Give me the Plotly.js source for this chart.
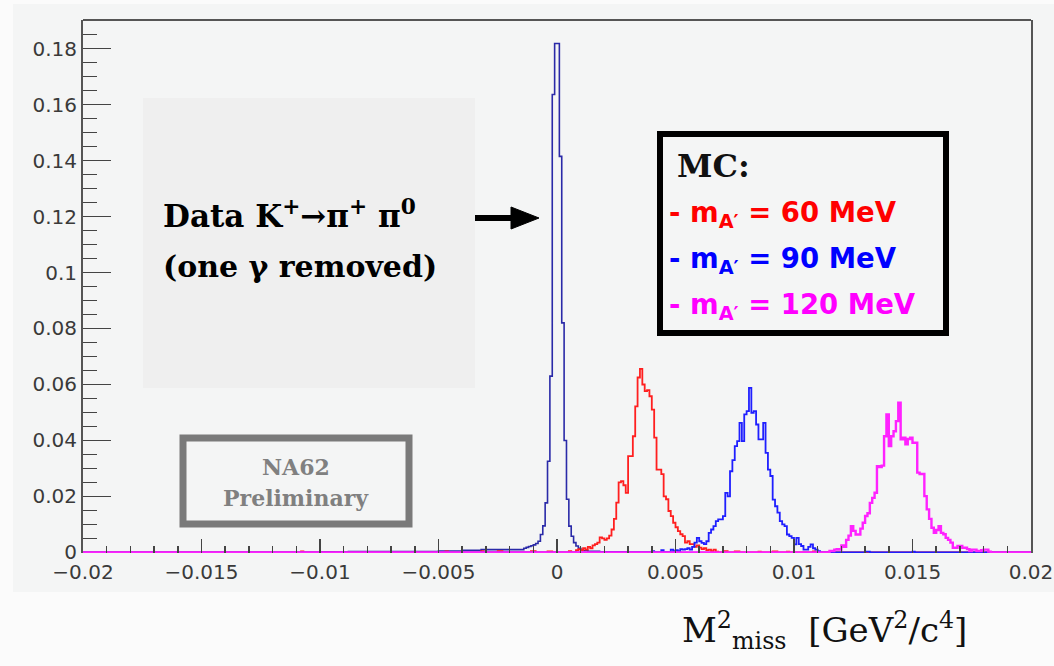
<!DOCTYPE html>
<html><head><meta charset="utf-8">
<script src="https://cdn.plot.ly/plotly-3.0.1.min.js"></script>
<style>html,body{margin:0;padding:0;background:#fbfbfb;} #chart{width:1054px;height:666px;}</style>
</head><body><div id="chart"></div>
<script>
// ---------------- data ----------------
const BIN = 0.0001;
const xTickVals = [-0.02, -0.015, -0.01, -0.005, 0, 0.005, 0.01, 0.015, 0.02];
const xTickText = ['\u22120.02', '\u22120.015', '\u22120.01', '\u22120.005', '0', '0.005', '0.01', '0.015', '0.02'];
const yTickVals = [0, 0.02, 0.04, 0.06, 0.08, 0.1, 0.12, 0.14, 0.16, 0.18];
const yTickText = ['0', '0.02', '0.04', '0.06', '0.08', '0.1', '0.12', '0.14', '0.16', '0.18'];

// Data K+ -> pi+ pi0 (bin low edges, value holds until next edge)
const dataEdges = [-0.0100, -0.0094, -0.0088, -0.0050, -0.0040, -0.0032, -0.0014, -0.0013, -0.0012, -0.0011,
  -0.0010, -0.0009, -0.0008, -0.0007, -0.0006, -0.0005, -0.0004, -0.0003, -0.0002, -0.0001,
  0.0000, 0.0001, 0.0002, 0.0003, 0.0004, 0.0005, 0.0006, 0.0007, 0.0008, 0.0009,
  0.0010, 0.0011, 0.0013, 0.0018, 0.0030, 0.0050];
const dataVals = [0.0002, 0.0001, 0.0003, 0.0005, 0.0008, 0.0010, 0.0015, 0.0018, 0.0021, 0.0024,
  0.0027, 0.0032, 0.0040, 0.0064, 0.0095, 0.0177, 0.0326, 0.0630, 0.1636, 0.1818,
  0.1818, 0.1415, 0.0820, 0.0400, 0.0190, 0.0094, 0.0058, 0.0035, 0.0023, 0.0015,
  0.0010, 0.0007, 0.0004, 0.0002, 0.0001, 0];

// MC m_A' = 60 MeV (red): peak bins from mc60Start, width BIN
const mc60Start = 0.0008;
const mc60Vals = [0.0008, 0.0012, 0.0008, 0.0015, 0.0010, 0.0020, 0.0015, 0.0025, 0.0030, 0.0035,
  0.0054, 0.0050, 0.0045, 0.0050, 0.0060, 0.0082, 0.0120, 0.0178, 0.0250, 0.0255,
  0.0240, 0.0213, 0.0344, 0.0344, 0.0415, 0.0522, 0.0625, 0.0656, 0.0600, 0.0576,
  0.0580, 0.0558, 0.0510, 0.0410, 0.0296, 0.0296, 0.0280, 0.0200, 0.0190, 0.0148,
  0.0130, 0.0106, 0.0090, 0.0076, 0.0065, 0.0058, 0.0035, 0.0040, 0.0030, 0.0030,
  0.0020, 0.0025, 0.0017, 0.0012, 0.0015, 0.0008, 0.0010, 0.0005, 0.0010, 0.0003, 0];
const mc60ExtraEdges = [-0.0108, -0.0107, -0.0047, -0.0046, -0.0032, -0.0031, -0.0025, -0.0023, -0.0011, -0.0009,
  -0.0004, -0.0002, 0.0005, 0.0006, 0.0070, 0.0072, 0.0075, 0.0077, 0.0085, 0.0086,
  0.0091, 0.0093, 0.0097, 0.0098, 0.0108, 0.0109, 0.0115, 0.0116];
const mc60ExtraVals = [0.0004, 0, 0.0004, 0, 0.0005, 0, 0.0005, 0, 0.0005, 0,
  0.0004, 0, 0.0005, 0, 0.0005, 0, 0.0004, 0, 0.0003, 0,
  0.0004, 0, 0.0003, 0, 0.0004, 0, 0.0003, 0];

// MC m_A' = 90 MeV (blue)
const mc90Start = 0.0048;
const mc90Vals = [0.0010, 0.0005, 0.0008, 0.0005, 0.0012, 0.0010, 0.0012, 0.0015, 0.0010, 0.0020,
  0.0035, 0.0052, 0.0040, 0.0034, 0.0030, 0.0040, 0.0070, 0.0082, 0.0094, 0.0112,
  0.0118, 0.0118, 0.0130, 0.0213, 0.0200, 0.0290, 0.0330, 0.0380, 0.0398, 0.0463,
  0.0398, 0.0493, 0.0505, 0.0588, 0.0499, 0.0505, 0.0457, 0.0404, 0.0404, 0.0463,
  0.0356, 0.0296, 0.0273, 0.0189, 0.0165, 0.0142, 0.0112, 0.0100, 0.0094, 0.0064,
  0.0058, 0.0052, 0.0029, 0.0052, 0.0030, 0.0023, 0.0010, 0.0010, 0.0020, 0.0029,
  0.0015, 0.0010, 0.0005, 0];
const mc90ExtraEdges = [0.0040, 0.0041, 0.0044, 0.0045, 0.0130, 0.0132, 0.0150, 0.0151];
const mc90ExtraVals = [0.0005, 0, 0.0008, 0, 0.0003, 0, 0.0003, 0];

// MC m_A' = 120 MeV (magenta)
const mc120Start = 0.0115;
const mc120Vals = [0.0005, 0.0005, 0.0010, 0.0012, 0.0010, 0.0025, 0.0020, 0.0045, 0.0060, 0.0094,
  0.0077, 0.0064, 0.0064, 0.0085, 0.0106, 0.0130, 0.0140, 0.0177, 0.0195, 0.0213,
  0.0308, 0.0305, 0.0310, 0.0415, 0.0493, 0.0380, 0.0415, 0.0433, 0.0469, 0.0535,
  0.0404, 0.0410, 0.0386, 0.0405, 0.0410, 0.0392, 0.0392, 0.0285, 0.0280, 0.0280,
  0.0201, 0.0154, 0.0120, 0.0088, 0.0070, 0.0080, 0.0094, 0.0070, 0.0065, 0.0052,
  0.0045, 0.0035, 0.0017, 0.0017, 0.0023, 0.0023, 0.0017, 0.0017, 0.0012, 0.0005,
  0.0010, 0.0010, 0.0005, 0.0005, 0.0008, 0.0010, 0.0010, 0.0003, 0];

// ---------------- helpers ----------------
const XMIN = -0.02, XMAX = 0.02;
function denseEdges(start, vals) { return vals.map((v, i) => +(start + i * BIN).toFixed(5)); }
function stepXY(edges, vals) {
  const pairs = edges.map((e, i) => [e, vals[i]]).sort((a, b) => a[0] - b[0]);
  const x = [XMIN], y = [0];
  pairs.forEach(p => { x.push(p[0]); y.push(p[1]); });
  x.push(XMAX); y.push(0);
  return {x, y};
}
function trace(xy, color, width) {
  return {x: xy.x, y: xy.y, type: 'scatter', mode: 'lines', line: {shape: 'hv', color: color, width: width}, hoverinfo: 'skip', showlegend: false};
}
const d = stepXY(dataEdges, dataVals);
const r = stepXY(denseEdges(mc60Start, mc60Vals).concat(mc60ExtraEdges), mc60Vals.concat(mc60ExtraVals));
const b = stepXY(denseEdges(mc90Start, mc90Vals).concat(mc90ExtraEdges), mc90Vals.concat(mc90ExtraVals));
const m = stepXY(denseEdges(mc120Start, mc120Vals), mc120Vals);

const traces = [
  trace(d, '#2a2aa8', 1.6),
  trace(r, '#ff1f1f', 1.8),
  trace(b, '#1f1fff', 1.8),
  trace(m, '#ff22ff', 2.4)
];

// pixel -> paper conversion for decorations
const PL = 83, PR = 1031, PT = 20, PB = 553;
const fx = px => (px - PL) / (PR - PL);
const fy = py => (PB - py) / (PB - PT);
function rect(x0, y0, x1, y1, fill, lineColor, lineWidth, layer) {
  return {type: 'rect', xref: 'paper', yref: 'paper', x0: fx(x0), x1: fx(x1), y0: fy(y1), y1: fy(y0),
    fillcolor: fill, line: {color: lineColor || 'rgba(0,0,0,0)', width: lineWidth || 0}, layer: layer || 'below'};
}
const shapes = [
  rect(13, 4, 1054, 592, '#f4f5f5', null, 0, 'below'),
  rect(143, 98, 475, 388, '#efefef', null, 0, 'below'),
  rect(660, 134, 946, 333, 'rgba(0,0,0,0)', '#000000', 6, 'above'),
  rect(183, 438, 409, 524, 'rgba(0,0,0,0)', '#7a7a7a', 7, 'above'),
  {type: 'line', xref: 'paper', yref: 'paper', x0: 0, x1: 1, y0: 1, y1: 1, line: {color: '#555555', width: 2}},
  {type: 'line', xref: 'paper', yref: 'paper', x0: fx(475), x1: fx(514), y0: fy(218), y1: fy(218), line: {color: '#000', width: 6}},
  {type: 'path', xref: 'paper', yref: 'paper',
    path: 'M ' + fx(511) + ' ' + fy(207) + ' L ' + fx(539) + ' ' + fy(218) + ' L ' + fx(511) + ' ' + fy(229) + ' Z',
    fillcolor: '#000', line: {color: '#000', width: 1}}
];
function ann(text, px, py, family, size, color, anchor) {
  return {text: text, xref: 'paper', yref: 'paper', x: fx(px), y: fy(py), xanchor: anchor || 'left', yanchor: 'middle',
    showarrow: false, font: {family: family, size: size, color: color}};
}
const annotations = [
  ann('<b>Data K<sup>+</sup>\u2192\u03c0<sup>+</sup> \u03c0<sup>0</sup></b>', 161, 214, 'DejaVu Serif', 31, '#000'),
  ann('<b>(one \u03b3 removed)</b>', 161, 266, 'DejaVu Serif', 30, '#000'),
  ann('<b>MC:</b>', 675, 166, 'DejaVu Serif', 32, '#111'),
  ann('<b>- m<sub>A\u2032</sub> = 60 MeV</b>', 667, 214, 'DejaVu Sans', 27.5, '#ff0000'),
  ann('<b>- m<sub>A\u2032</sub> = 90 MeV</b>', 667, 260, 'DejaVu Sans', 27.5, '#0000ff'),
  ann('<b>- m<sub>A\u2032</sub> = 120 MeV</b>', 667, 306, 'DejaVu Sans', 27.5, '#ff00ff'),
  ann('<b>NA62</b>', 296, 467, 'DejaVu Serif', 22, '#808080', 'center'),
  ann('<b>Preliminary</b>', 296, 498, 'DejaVu Serif', 22, '#808080', 'center'),
  ann('M<sup>2</sup><sub>miss</sub>\u00a0 [GeV<sup>2</sup>/c<sup>4</sup>]', 824, 630, 'DejaVu Serif', 34, '#111', 'center')
];

const layout = {
  width: 1054, height: 666,
  margin: {l: 83, r: 23, t: 20, b: 113},
  paper_bgcolor: '#fbfbfb', plot_bgcolor: 'rgba(0,0,0,0)',
  showlegend: false,
  xaxis: {
    range: [XMIN, XMAX], tickmode: 'array', tickvals: xTickVals, ticktext: xTickText,
    ticks: 'inside', ticklen: 14, tickwidth: 1.5, tickcolor: '#444', ticklabelstandoff: 5,
    minor: {tickmode: 'linear', tick0: 0, dtick: 0.001, ticks: 'inside', ticklen: 7, tickwidth: 1.5, tickcolor: '#444'},
    showgrid: false, zeroline: false, showline: false,
    tickfont: {family: 'DejaVu Sans', size: 20, color: '#3a3a3a'}
  },
  yaxis: {
    range: [-0.0002, 0.1902], tickmode: 'array', tickvals: yTickVals, ticktext: yTickText,
    ticks: 'inside', ticklen: 28, tickwidth: 1.5, tickcolor: '#444',
    minor: {tickmode: 'linear', tick0: 0, dtick: 0.005, ticks: 'inside', ticklen: 14, tickwidth: 1.5, tickcolor: '#444'},
    showgrid: false, zeroline: false, showline: true, linecolor: '#555555', linewidth: 2, mirror: true,
    tickfont: {family: 'DejaVu Sans', size: 20, color: '#3a3a3a'}
  },
  shapes: shapes,
  annotations: annotations
};
Plotly.newPlot('chart', traces, layout, {staticPlot: true, displayModeBar: false});
</script></body></html>
